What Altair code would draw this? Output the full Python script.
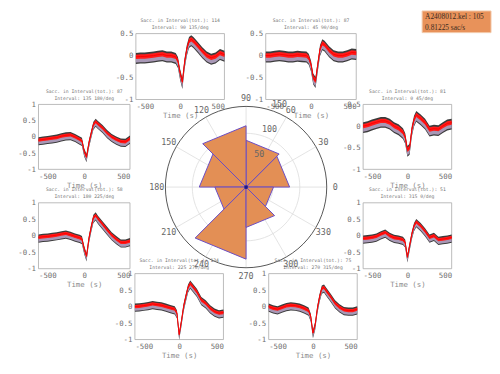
import altair as alt
import pandas as pd
import math

# ---------------- data ----------------
TIME = [-500, -450, -400, -350, -300, -250, -200, -150, -100, -50, -25, 0, 25,
        50, 75, 100, 125, 150, 200, 250, 300, 350, 400, 450, 500]

TRACE_0_45 = [0.0, 0.02, 0.06, 0.09, 0.12, 0.12, 0.08, 0.0, -0.05, -0.14, -0.25, -0.55, -0.5,
              -0.08, 0.15, 0.26, 0.22, 0.18, 0.08, -0.08, -0.06, -0.07, 0.0, 0.06, 0.08]
TRACE_45_90 = [0.0, 0.0, 0.02, 0.03, 0.02, 0.0, 0.0, 0.02, 0.01, 0.0, -0.05, -0.2, -0.5,
               -0.58, -0.2, 0.15, 0.28, 0.25, 0.12, 0.03, 0.0, 0.0, 0.03, 0.07, 0.06]
TRACE_90_135 = [-0.03, -0.02, -0.02, -0.01, 0.0, 0.02, 0.03, 0.0, 0.0, -0.03, -0.12, -0.4, -0.6,
                -0.15, 0.15, 0.33, 0.37, 0.33, 0.22, 0.1, 0.0, -0.05, -0.02, 0.06, 0.02]
TRACE_135_180 = [-0.1, -0.08, -0.06, -0.04, -0.02, 0.02, 0.05, 0.06, 0.0, -0.08, -0.12, -0.45, -0.62,
                 -0.2, 0.1, 0.38, 0.47, 0.4, 0.28, 0.12, 0.0, -0.08, -0.14, -0.15, -0.05]
TRACE_180_225 = [-0.05, -0.03, -0.02, 0.0, 0.02, 0.05, 0.07, 0.03, -0.02, -0.06, -0.1, -0.4, -0.62,
                 -0.1, 0.25, 0.55, 0.62, 0.52, 0.35, 0.18, 0.02, -0.1, -0.2, -0.2, -0.16]
TRACE_225_270 = [0.0, 0.01, 0.03, 0.05, 0.08, 0.06, 0.04, 0.0, -0.04, -0.08, -0.2, -0.85, -0.45,
                 0.0, 0.3, 0.58, 0.7, 0.62, 0.45, 0.2, 0.1, -0.05, -0.15, -0.2, -0.18]
TRACE_270_315 = [0.0, -0.05, -0.08, -0.03, 0.02, 0.04, 0.03, 0.0, -0.05, -0.12, -0.3, -0.8, -0.55,
                 -0.05, 0.3, 0.55, 0.58, 0.48, 0.3, 0.1, -0.02, -0.1, -0.12, -0.12, -0.08]
TRACE_315_360 = [-0.08, -0.07, -0.05, -0.02, 0.05, 0.1, 0.0, -0.06, -0.08, -0.12, -0.2, -0.65, -0.3,
                 0.05, 0.3, 0.42, 0.36, 0.3, 0.14, -0.05, 0.0, -0.12, -0.1, -0.08, -0.05]

TRACES = [TRACE_0_45, TRACE_45_90, TRACE_90_135, TRACE_135_180,
          TRACE_180_225, TRACE_225_270, TRACE_270_315, TRACE_315_360]

BIN_EDGES = [0, 45, 90, 135, 180, 225, 270, 315, 360]
INTERVAL_LABELS = ["0  45", "45  90", "90  135", "135  180",
                   "180  225", "225  270", "270  315", "315  0"]
COUNTS = [81, 87, 114, 87, 58, 134, 75, 51]
Y_LIMITS = [(-1, 0.5), (-1, 0.5), (-1, 0.5), (-1, 1), (-1, 1), (-1, 1), (-1, 1), (-1, 1)]

RING_VALUES = [50, 100, 150]
ANGLE_TICKS = list(range(0, 360, 30))

INFO_LINES = ["A2408012.kel : 105", "0.81225 sac/s"]

# ---------------- layout / style ----------------
W, H = 492, 366
# panel plot areas in chart pixels: (x_left, x_right, y_bottom, y_top)
PANEL_BOX = [
    (361, 451, 161, 95),   # 0-45
    (262, 354, 90, 23),    # 45-90
    (130, 220, 90, 23),    # 90-135
    (31, 124, 161, 95),    # 135-180
    (31, 124, 262, 195),   # 180-225
    (129, 219, 334, 267),  # 225-270
    (265, 355, 334, 267),  # 270-315
    (361, 451, 262, 195),  # 315-0
]
POLAR_X = [160, 324]
POLAR_Y = [261, 97]
RMAX = 150

MONO = "DejaVu Sans Mono"
ORANGE = "#E38F55"
PURPLE = "#6A4CC4"

layers = []

# ---------------- polar chart ----------------
pxs = alt.Scale(domain=[-RMAX, RMAX], range=POLAR_X, nice=False, zero=False)
pys = alt.Scale(domain=[-RMAX, RMAX], range=POLAR_Y, nice=False, zero=False)

spokes = pd.DataFrame({"a": ANGLE_TICKS, "z": [0] * len(ANGLE_TICKS), "r": [RMAX] * len(ANGLE_TICKS)})
spoke_layer = alt.Chart(spokes).transform_calculate(
    ex="datum.r*cos(datum.a*PI/180)", ey="datum.r*sin(datum.a*PI/180)"
).mark_rule(color="#dddddd", strokeWidth=0.8).encode(
    x=alt.X("z:Q", scale=pxs, axis=None), y=alt.Y("z:Q", scale=pys, axis=None),
    x2="ex:Q", y2="ey:Q")

ring_rows = []
for rv in RING_VALUES:
    for a in range(0, 361, 5):
        ring_rows.append({"ring": rv, "a": a, "outer": rv == RMAX})
rings = pd.DataFrame(ring_rows)
ring_base = alt.Chart(rings).transform_calculate(
    px="datum.ring*cos(datum.a*PI/180)", py="datum.ring*sin(datum.a*PI/180)")
inner_rings = ring_base.transform_filter("!datum.outer").mark_line(
    color="#dddddd", strokeWidth=0.8).encode(
    x=alt.X("px:Q", scale=pxs, axis=None), y=alt.Y("py:Q", scale=pys, axis=None),
    detail="ring:N", order="a:Q")
outer_ring = ring_base.transform_filter("datum.outer").mark_line(
    color="#555555", strokeWidth=1).encode(
    x=alt.X("px:Q", scale=pxs, axis=None), y=alt.Y("py:Q", scale=pys, axis=None),
    detail="ring:N", order="a:Q")

wedge_rows = []
for i, c in enumerate(COUNTS):
    wedge_rows.append({"bin": i, "k": 0, "r": 0, "a": BIN_EDGES[i]})
    wedge_rows.append({"bin": i, "k": 1, "r": c, "a": BIN_EDGES[i]})
    wedge_rows.append({"bin": i, "k": 2, "r": c, "a": BIN_EDGES[i + 1]})
wedges = pd.DataFrame(wedge_rows)
wedge_layer = alt.Chart(wedges).transform_calculate(
    px="datum.r*cos(datum.a*PI/180)", py="datum.r*sin(datum.a*PI/180)"
).mark_line(interpolate="linear-closed", fill=ORANGE, stroke=PURPLE,
            strokeWidth=1, fillOpacity=1).encode(
    x=alt.X("px:Q", scale=pxs, axis=None), y=alt.Y("py:Q", scale=pys, axis=None),
    detail="bin:N", order="k:Q")

center = pd.DataFrame({"z": [0]})
center_layer = alt.Chart(center).mark_point(filled=True, color="#1a1a8c", size=14, opacity=1).encode(
    x=alt.X("z:Q", scale=pxs, axis=None), y=alt.Y("z:Q", scale=pys, axis=None))

alabels = pd.DataFrame({"a": ANGLE_TICKS, "r": [166] * len(ANGLE_TICKS),
                        "lab": [str(a) for a in ANGLE_TICKS]})
alabel_layer = alt.Chart(alabels).transform_calculate(
    px="datum.r*cos(datum.a*PI/180)", py="datum.r*sin(datum.a*PI/180)"
).mark_text(font=MONO, fontSize=8.5, color="#666666").encode(
    x=alt.X("px:Q", scale=pxs, axis=None), y=alt.Y("py:Q", scale=pys, axis=None), text="lab:N")

rlabels = pd.DataFrame({"r": RING_VALUES, "lab": [str(v) for v in RING_VALUES]})
rlabel_layer = alt.Chart(rlabels).transform_calculate(
    px="(datum.r+16)*cos(68*PI/180)", py="(datum.r+16)*sin(68*PI/180)"
).mark_text(font=MONO, fontSize=8.5, color="#666666").encode(
    x=alt.X("px:Q", scale=pxs, axis=None), y=alt.Y("py:Q", scale=pys, axis=None), text="lab:N")

polar = alt.layer(spoke_layer, inner_rings, wedge_layer, outer_ring, center_layer,
                  alabel_layer, rlabel_layer)
layers.append(polar)

# ---------------- panels ----------------
AX = dict(labelFont=MONO, labelFontSize=7.5, labelColor="#707070", ticks=False,
          domain=False, grid=False, labelPadding=3,
          titleFont=MONO, titleFontSize=7.5, titleColor="#8a8a8a",
          titleFontWeight="normal", titlePadding=2)

for i in range(8):
    xl, xr, yb, yt = PANEL_BOX[i]
    lo, hi = Y_LIMITS[i]
    xs = alt.Scale(domain=[-500, 500], range=[xl, xr], nice=False, zero=False)
    ys = alt.Scale(domain=[lo, hi], range=[yb, yt], nice=False, zero=False)
    yvals = [-1, -0.5, 0, 0.5] + ([1] if hi == 1 else [])
    xax = alt.Axis(values=[-500, 0, 500], title="Time (s)", orient="bottom",
                   offset=yb - H, labelExpr="'' + datum.value", **AX)
    yax = alt.Axis(values=yvals, title=None, orient="left", offset=-xl,
                   labelExpr="'' + datum.value", **AX)

    frame_df = pd.DataFrame({"x1": [-500], "x2": [500], "y1": [lo], "y2": [hi]})
    frame = alt.Chart(frame_df).mark_rect(fill="white", stroke="#aaaaaa", strokeWidth=0.8).encode(
        x=alt.X("x1:Q", scale=xs, axis=xax), x2="x2:Q",
        y=alt.Y("y1:Q", scale=ys, axis=yax), y2="y2:Q")

    df = pd.DataFrame({"t": TIME, "m": TRACES[i]})
    base = alt.Chart(df).transform_calculate(
        d1="datum.m-0.16", d2="datum.m+0.09",
        g1="datum.m-0.13", g2="datum.m-0.03",
        r1="datum.m-0.05", r2="datum.m+0.05")
    X = alt.X("t:Q", scale=xs, axis=xax)
    dark = base.mark_area(color="#262626", opacity=0.9).encode(
        x=X, y=alt.Y("d1:Q", scale=ys, axis=yax), y2="d2:Q")
    grey = base.mark_area(color="#a898b6", opacity=1).encode(
        x=X, y=alt.Y("g1:Q", scale=ys, axis=yax), y2="g2:Q")
    red = base.mark_area(color="#ff1c1c", opacity=1).encode(
        x=X, y=alt.Y("r1:Q", scale=ys, axis=yax), y2="r2:Q")
    line = base.mark_line(color="#ff0000", strokeWidth=1).encode(
        x=X, y=alt.Y("m:Q", scale=ys, axis=yax))

    tdf = pd.DataFrame({"t": [0], "y": [hi],
                        "l1": ["Sacc. in Interval(tot.): %d" % COUNTS[i]],
                        "l2": ["Interval: %s/deg" % INTERVAL_LABELS[i]]})
    t1 = alt.Chart(tdf).mark_text(font=MONO, fontSize=4.8, color="#777777", dy=-13).encode(
        x=alt.X("t:Q", scale=xs, axis=xax), y=alt.Y("y:Q", scale=ys, axis=yax), text="l1:N")
    t2 = alt.Chart(tdf).mark_text(font=MONO, fontSize=4.8, color="#777777", dy=-6).encode(
        x=alt.X("t:Q", scale=xs, axis=xax), y=alt.Y("y:Q", scale=ys, axis=yax), text="l2:N")

    layers.append(alt.layer(frame, dark, grey, red, line, t1, t2))

# ---------------- info box ----------------
info_df = pd.DataFrame({"l1": [INFO_LINES[0]], "l2": [INFO_LINES[1]]})
box = alt.Chart(info_df).mark_rect(fill="#E8925A", stroke="#f2c8a8", strokeWidth=1).encode(
    x=alt.value(421), x2=alt.value(491), y=alt.value(0), y2=alt.value(22))
info1 = alt.Chart(info_df).mark_text(font="Liberation Serif", fontSize=7.5, color="#3a2a20",
                                     align="left").encode(
    x=alt.value(424), y=alt.value(6), text="l1:N")
info2 = alt.Chart(info_df).mark_text(font="Liberation Serif", fontSize=7.5, color="#3a2a20",
                                     align="left").encode(
    x=alt.value(424), y=alt.value(17), text="l2:N")
layers.append(alt.layer(box, info1, info2))

chart = alt.layer(*layers).resolve_scale(x="independent", y="independent").properties(
    width=W, height=H, autosize=alt.AutoSizeParams(type="none"), padding=0
).configure_view(stroke=None)

chart.save("out.html", embed_options={"renderer": "svg", "actions": False})
